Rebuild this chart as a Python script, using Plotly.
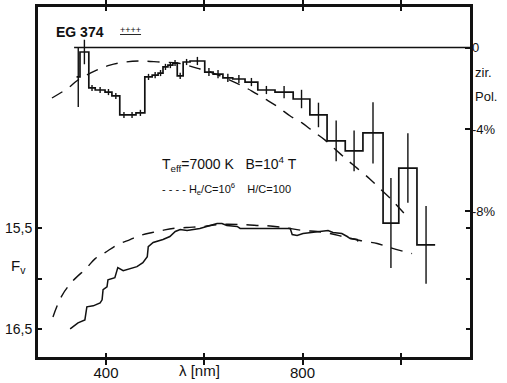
import plotly.graph_objects as go

# ---------------- data ----------------
# circular polarisation histogram (bin edges in nm, values in %)
pol_edges = [340, 347, 365, 378, 398, 412, 428, 445, 461, 479, 494, 506, 516, 526, 536, 545,
             557, 571, 601, 618, 638, 658, 683, 709, 744, 781, 815, 850, 887, 923, 964, 996,
             1033, 1070]
pol_values = [-1.44, -0.22, -1.98, -2.08, -2.18, -2.37, -3.30, -3.30, -3.20, -1.44, -1.35,
              -1.25, -0.95, -0.86, -0.76, -1.39, -0.71, -0.66, -1.20, -1.30, -1.49, -1.54,
              -1.69, -2.08, -2.18, -2.52, -3.30, -4.57, -5.06, -4.18, -8.59, -5.90, -9.66]
pol_errors = [1.47, 0.60, 0.15, 0.15, 0.15, 0.15, 0.15, 0.15, 0.15, 0.15, 0.15, 0.15, 0.15,
              0.15, 0.15, 0.15, 0.15, 0.20, 0.20, 0.20, 0.20, 0.20, 0.20, 0.20, 0.30, 0.45,
              0.60, 1.00, 1.00, 1.50, 2.20, 1.70, 1.90]

# model polarisation (dashed)
model_pol_wl = [290, 323, 343, 382, 408, 439, 469, 510, 545, 571, 591, 618, 642, 673, 697,
                724, 750, 775, 799, 821, 846, 866, 891, 911, 937, 954, 982, 1015]
model_pol_val = [-2.47, -1.98, -1.59, -1.10, -0.86, -0.71, -0.66, -0.71, -0.76, -0.91, -1.05,
                 -1.25, -1.49, -1.83, -2.13, -2.52, -2.91, -3.35, -3.69, -4.09, -4.53, -4.97,
                 -5.50, -5.90, -6.43, -6.82, -7.46, -8.34]

# observed flux (magnitudes)
flux_wl = [327, 333, 343, 357, 361, 374, 388, 392, 394, 402, 404, 418, 424, 435, 449, 463,
           475, 484, 486, 496, 516, 530, 541, 551, 565, 577, 591, 612, 626, 636, 646, 667,
           673, 687, 707, 734, 775, 779, 789, 801, 821, 840, 852, 862, 880, 891, 897, 911, 913]
flux_mag = [16.50, 16.48, 16.44, 16.41, 16.28, 16.27, 16.24, 16.21, 16.11, 16.08, 16.01, 15.99,
            15.89, 15.92, 15.90, 15.88, 15.84, 15.78, 15.68, 15.64, 15.61, 15.58, 15.53, 15.51,
            15.52, 15.51, 15.50, 15.47, 15.45, 15.45, 15.47, 15.48, 15.50, 15.50, 15.50, 15.50,
            15.50, 15.56, 15.57, 15.55, 15.54, 15.53, 15.52, 15.54, 15.55, 15.58, 15.60, 15.61,
            15.63]

# model flux (dashed)
model_flux_wl = [292, 310, 331, 361, 378, 398, 424, 449, 469, 494, 514, 536, 565, 598, 632,
                 673, 707, 720, 760, 801, 830, 856, 882, 917, 952, 978, 1023]
model_flux_mag = [16.38, 16.17, 16.03, 15.89, 15.80, 15.74, 15.66, 15.61, 15.57, 15.54, 15.52,
                  15.50, 15.49, 15.48, 15.46, 15.46, 15.47, 15.47, 15.49, 15.52, 15.53, 15.55,
                  15.58, 15.62, 15.65, 15.69, 15.75]

x_ticks = [400, 600, 800, 1000]
x_tick_labels = ["400", "", "800", ""]
f_ticks = [15.5, 16.0, 16.5]
f_tick_labels = ["15,5", "", "16,5"]
p_ticks = [0, -4, -8]
p_tick_labels = ["0", "-4%", "-8%"]
zero_line_wl = [335, 1143]
zero_line_val = [0, 0]

X_RANGE = [259.5, 1143]
F_RANGE = [16.789, 13.286]
P_RANGE = [-15.19, 2.03]

FONT = "Liberation Sans, Arial, sans-serif"
INK = "#111111"

# ---------------- figure ----------------
fig = go.Figure()

step_x = pol_edges
step_y = pol_values + [pol_values[-1]]
fig.add_trace(go.Scatter(x=step_x, y=step_y, mode="lines", line_shape="hv",
                         line=dict(color=INK, width=1.7), yaxis="y2", hoverinfo="skip"))

centers = [(a + b) / 2 for a, b in zip(pol_edges[:-1], pol_edges[1:])]
fig.add_trace(go.Scatter(x=centers, y=pol_values, mode="markers",
                         marker=dict(size=0.1, color=INK),
                         error_y=dict(type="data", array=pol_errors, visible=True,
                                      color=INK, thickness=1.4, width=0),
                         yaxis="y2", hoverinfo="skip"))

fig.add_trace(go.Scatter(x=model_pol_wl, y=model_pol_val, mode="lines",
                         line=dict(color=INK, width=1.4, dash="12px,9px"),
                         line_shape="spline", yaxis="y2", hoverinfo="skip"))

fig.add_trace(go.Scatter(x=flux_wl, y=flux_mag, mode="lines",
                         line=dict(color=INK, width=1.5), hoverinfo="skip"))
fig.add_trace(go.Scatter(x=model_flux_wl, y=model_flux_mag, mode="lines",
                         line=dict(color=INK, width=1.4, dash="12px,9px"),
                         line_shape="spline", hoverinfo="skip"))

fig.add_trace(go.Scatter(x=zero_line_wl, y=zero_line_val, mode="lines",
                         line=dict(color=INK, width=1.5), yaxis="y2", hoverinfo="skip"))

# plot frame
fig.add_shape(type="rect", xref="paper", yref="paper", x0=0, x1=1, y0=0, y1=1,
              line=dict(color=INK, width=2), layer="above")

fig.update_layout(
    template="none",
    width=507, height=383,
    margin=dict(l=37, r=36, t=6, b=25, pad=0),
    paper_bgcolor="white", plot_bgcolor="white",
    showlegend=False,
    font=dict(family=FONT, color=INK, size=14),
    xaxis=dict(range=X_RANGE, tickvals=x_ticks, ticktext=x_tick_labels,
               ticks="inside", ticklen=5, tickwidth=1.5, tickcolor=INK,
               showline=True, linecolor=INK, linewidth=2, mirror="allticks",
               showgrid=False, zeroline=False, automargin=False,
               tickfont=dict(size=15, family=FONT, color=INK)),
    yaxis=dict(range=F_RANGE, tickvals=f_ticks, ticktext=f_tick_labels,
               ticks="inside", ticklen=5, tickwidth=1.5, tickcolor=INK,
               showline=True, linecolor=INK, linewidth=2, mirror="ticks",
               showgrid=False, zeroline=False, automargin=False,
               tickfont=dict(size=14, family=FONT, color=INK)),
    yaxis2=dict(range=P_RANGE, overlaying="y", side="right",
                tickvals=p_ticks, ticktext=p_tick_labels,
                ticks="inside", ticklen=6, tickwidth=1.5, tickcolor=INK,
                showline=False, showgrid=False, zeroline=False, automargin=False,
                tickfont=dict(size=13, family=FONT, color=INK)),
)

def px(xp):
    return (xp - 37) / 434

def py(yp):
    return (358 - yp) / 352

ann = [
    dict(text="<b>EG 374</b>", x=px(54), y=py(32), xanchor="left", font=dict(size=14)),
    dict(text="<u>++++</u>", x=px(118), y=py(30), xanchor="left", font=dict(size=9)),
    dict(text="T<sub>eff</sub>=7000 K   B=10<sup>4</sup> T", x=px(160), y=py(164),
         xanchor="left", font=dict(size=14)),
    dict(text="- - - - H<sub>e</sub>/C=10<sup>6</sup>    H/C=100", x=px(160), y=py(189),
         xanchor="left", font=dict(size=11)),
    dict(text="zir.", x=px(473), y=py(73), xanchor="left", font=dict(size=13)),
    dict(text="Pol.", x=px(473), y=py(96), xanchor="left", font=dict(size=13)),
    dict(text="F<sub>v</sub>", x=px(9), y=py(266), xanchor="left", font=dict(size=15)),
    dict(text="λ [nm]", x=px(177), y=py(370), xanchor="left", font=dict(size=15)),
]
for a in ann:
    a.update(xref="paper", yref="paper", showarrow=False, yanchor="middle")
    fig.add_annotation(**a)

post = (
    "document.documentElement.style.margin='0';"
    "document.documentElement.style.padding='0';"
    "document.documentElement.style.overflow='hidden';"
    "document.body.style.margin='0';"
    "document.body.style.padding='0';"
    "document.body.style.overflow='hidden';"
    "var gd=document.getElementById('{plot_id}');"
    "gd.style.position='absolute';gd.style.top='0px';gd.style.left='0px';"
    "window.scrollTo(0,0);"
)
fig.write_html("out.html", config={"displayModeBar": False}, post_script=post)
